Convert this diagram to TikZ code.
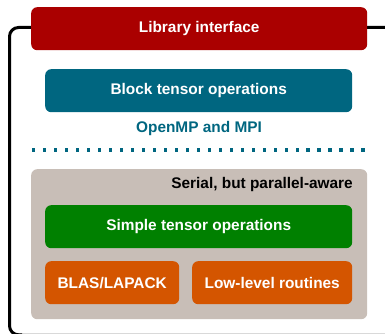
\documentclass[tikz,border=0pt]{standalone}
\usepackage{fontspec}
\setmainfont{Liberation Sans}
\usetikzlibrary{calc}
\begin{document}
\begin{tikzpicture}[x=1pt,y=-1pt,
  layer/.style={draw=none, rounded corners=6pt, inner sep=0pt, anchor=north west,
    font=\fontsize{15.4}{18}\selectfont\bfseries, text=white},
  caption/.style={font=\fontsize{15.4}{18}\selectfont\bfseries, inner sep=0pt}]
\useasboundingbox (0,0) rectangle (385,334);
\definecolor{libred}{HTML}{AA0000}
\definecolor{blockteal}{HTML}{006680}
\definecolor{simplegreen}{HTML}{008000}
\definecolor{loworange}{HTML}{D45500}
\definecolor{serialgrey}{HTML}{C8BEB7}
\begin{scope}
\clip (0,0) rectangle (385,334);
% outer frame of the library, running off the right and bottom edges
\draw[line width=1pt, black!15] (15,333.6) -- (390,333.6);
\draw[line width=3pt, rounded corners=9pt] (22,334.8) -- (9.5,334.8) -- (9.5,27.5) -- (400,27.5);
\end{scope}
% serial part
\node[layer, fill=serialgrey, minimum width=336pt, minimum height=150pt] (serial) at (31,169) {};
\node[caption, anchor=east] (serialtxt) at (353,185) {Serial, but parallel-aware};
% layers
\node[layer, fill=libred, minimum width=336pt, minimum height=43pt] (lib) at (31,7) {};
\node[text=white, caption] (libtxt) at (lib.center) {Library interface};
\node[layer, fill=blockteal, minimum width=307pt, minimum height=43pt] (block) at (45,69) {};
\node[text=white, caption] (blocktxt) at (block.center) {Block tensor operations};
\node[caption, text=blockteal] (omp) at (199,129) {OpenMP and MPI};
\node[layer, fill=simplegreen, minimum width=307pt, minimum height=43pt] (simple) at (45,205) {};
\node[text=white, caption] (simpletxt) at (simple.center) {Simple tensor operations};
\node[layer, fill=loworange, minimum width=134pt, minimum height=43pt] (blas) at (45,261) {};
\node[text=white, caption] (blastxt) at (blas.center) {BLAS/LAPACK};
\node[layer, fill=loworange, minimum width=160pt, minimum height=43pt] (low) at (192,261) {};
\node[text=white, caption] (lowtxt) at (low.center) {Low-level routines};
% dotted separator between parallel and serial parts
\coordinate (dl) at (33.5,150);
\coordinate (dr) at (363,150);
\foreach \i in {0,...,30}
  \fill[blockteal] ($(dl)!\i/30!(dr)$) ++(-1.6,-1.6) rectangle ++(3.2,3.2);
\end{tikzpicture}
\end{document}
